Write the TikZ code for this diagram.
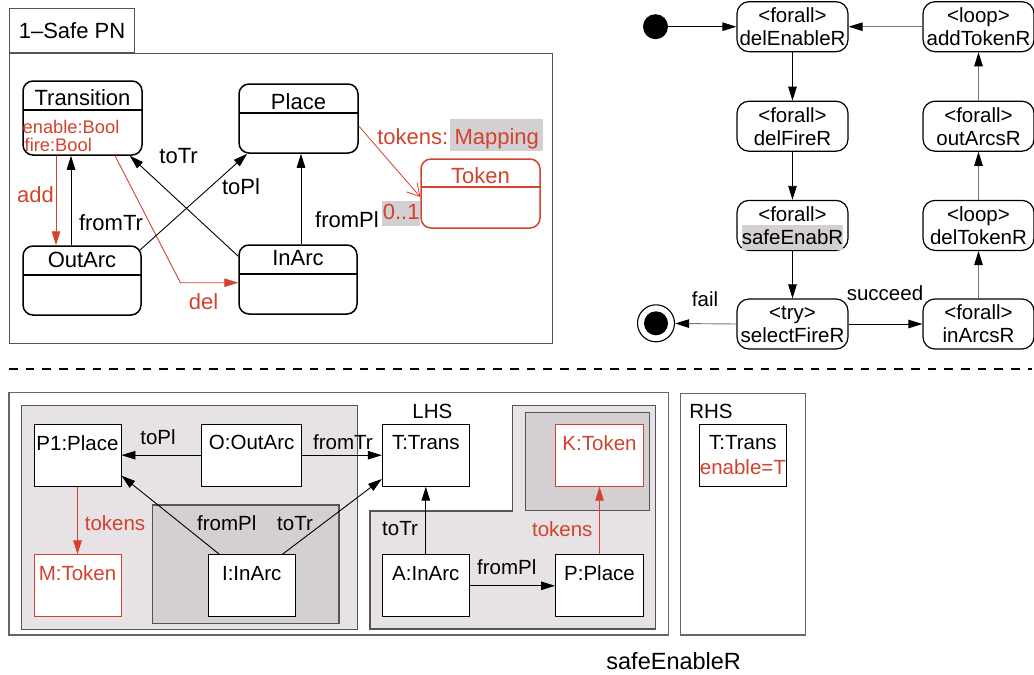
\documentclass[tikz,border=0pt]{standalone}
\usepackage{fontspec}
\setmainfont{Liberation Sans}
\usetikzlibrary{arrows.meta}
\definecolor{pnred}{RGB}{210,66,44}
\definecolor{lgray}{RGB}{231,226,230}
\definecolor{dgray}{RGB}{212,207,211}
\definecolor{hlgray}{RGB}{212,207,211}
\definecolor{framec}{RGB}{85,85,85}
\newcommand{\fsA}{\fontsize{22}{24}\selectfont}
\newcommand{\fsB}{\fontsize{20.5}{23}\selectfont}
\newcommand{\fsC}{\fontsize{18.3}{20}\selectfont}
\begin{document}
\begin{tikzpicture}[x=1pt,y=-1pt,
  >={Triangle[length=14pt,width=8.5pt]},
  lbl/.style={inner sep=0pt, font=\fsA},
  slbl/.style={inner sep=0pt, font=\fsB},
  cls/.style={draw, rounded corners=10pt, line width=1.5pt, inner sep=0pt},
  act/.style={draw, rounded corners=12pt, line width=1.2pt, minimum width=111pt, minimum height=50pt, inner sep=0pt, align=center, font=\fsB},
  inst/.style={draw, fill=white, line width=0.9pt, minimum width=87pt, minimum height=62pt, inner sep=0pt},
  conn/.style={line width=0.9pt, ->},
  rconn/.style={line width=0.9pt, ->, draw=pnred},
  gconn/.style={line width=0.9pt, draw=black!55, -{Triangle[length=14pt,width=8.5pt,color=black]}},
  region/.style={draw=framec, line width=1.2pt},
]
\useasboundingbox (0,0) rectangle (1034,675);

% ---------- top left: class diagram ----------
\node[draw=framec, line width=1pt, minimum width=125pt, minimum height=44pt, inner sep=0pt, font=\fsA] (tab) at (72,30.2) {1–Safe PN};
\draw[draw=framec, line width=1pt] (9.6,53) rectangle (552.5,343);

\node[cls, minimum width=119pt, minimum height=74pt] (tr) at (82.5,118) {};
\draw[line width=1.5pt] (23,110) -- (142,110);
\node[lbl] (trT) at (82.5,98) {Transition};
\node[inner sep=0pt, font=\fsC, text=pnred, anchor=west] (trA1) at (22.5,127) {enable:Bool};
\node[inner sep=0pt, font=\fsC, text=pnred, anchor=west] (trA2) at (24.5,144.5) {fire:Bool};

\node[cls, minimum width=119pt, minimum height=69pt] (pl) at (298.5,118.5) {};
\draw[line width=1.5pt] (239,113) -- (358,113);
\node[lbl] (plT) at (298.5,101.5) {Place};

\node[cls, draw=pnred, minimum width=119pt, minimum height=69pt] (tk) at (480.5,193.5) {};
\draw[line width=1.5pt, pnred] (421,187) -- (540,187);
\node[lbl, text=pnred] (tkT) at (480.5,175.5) {Token};

\node[cls, minimum width=118pt, minimum height=69pt] (oa) at (82,280.5) {};
\draw[line width=1.5pt] (23,275) -- (141,275);
\node[lbl] (oaT) at (82,260) {OutArc};

\node[cls, minimum width=118pt, minimum height=69pt] (ia) at (298,279.5) {};
\draw[line width=1.5pt] (239,274) -- (357,274);
\node[lbl] (iaT) at (298,258.5) {InArc};

% connectors
\draw[rconn] ([xshift=-26.5pt]tr.south) -- ([xshift=-26pt]oa.north);
\node[lbl, text=pnred] (addL) at (35.5,195) {add};
\draw[conn] ([xshift=-11pt]oa.north) -- ([xshift=-11.5pt]tr.south);
\node[lbl] (fromTrL) at (111,223) {fromTr};
\coordinate (delB) at (180.4,282.7);
\draw[rconn] ([xshift=32.5pt]tr.south) -- (delB) -- (delB -| ia.west);
\node[lbl, text=pnred] (delL) at (203.6,301.7) {del};
\draw[conn] ([yshift=-12pt]ia.north west) -- ([xshift=-13pt]tr.south east);
\node[lbl] (toTrL) at (178.6,156) {toTr};
\draw[conn] ([xshift=-2pt,yshift=-5pt]oa.north east) -- ([xshift=9pt]pl.south west);
\node[lbl] (toPlL) at (241,187) {toPl};
\draw[conn] ([xshift=3pt]ia.north) -- ([xshift=2.5pt]pl.south);
\node[lbl] (fromPlL) at (347,220) {fromPl};
\draw[line width=0.8pt, draw=pnred, -{Straight Barb[length=12pt,width=14pt,line width=0.8pt]}] ([yshift=-7.5pt]pl.east) -- ([yshift=-3.5pt]tk.west);
\node[lbl, text=pnred, anchor=base] (tokL) at (412.8,144.3) {tokens:};
\node[font=\fsA, text=pnred, fill=hlgray, inner xsep=4.5pt, inner ysep=0pt, text height=25.3pt, text depth=6.4pt, anchor=base] (mapL) at (496.7,144.3) {Mapping};
\node[font=\fsA, text=pnred, fill=hlgray, inner xsep=0.5pt, inner ysep=0pt, text height=18.3pt, text depth=6.7pt, anchor=base] (mulL) at (401.2,219.3) {0..1};

% ---------- top right: activity diagram ----------
\node[act] (a1) at (792.5,26.7) {<forall>\\delEnableR};
\node[act] (a2) at (792.5,126.2) {<forall>\\delFireR};
\node[act] (a3) at (792.5,225.4) {<forall>\\\raisebox{0pt}[\height][0pt]{\setlength{\fboxsep}{0pt}\colorbox{hlgray}{\rule[-5.6pt]{0pt}{25pt}safeEnabR}}};
\node[act] (a4) at (792.5,324) {<try>\\selectFireR};
\node[act] (b1) at (978.5,26.7) {<loop>\\addTokenR};
\node[act] (b2) at (978.5,126.2) {<forall>\\outArcsR};
\node[act] (b3) at (978.5,225.4) {<loop>\\delTokenR};
\node[act] (b4) at (978.5,324) {<forall>\\inArcsR};

\node[circle, fill=black, minimum size=25pt, inner sep=0pt] (init) at (655.5,26.7) {};
\node[circle, draw=black, line width=1.1pt, minimum size=37pt, inner sep=0pt] (fin) at (656,323.3) {};
\node[circle, fill=black, minimum size=24pt, inner sep=0pt] (finc) at (656,323.3) {};

\draw[conn] (init) -- (a1);
\draw[conn] (a1) -- (a2);
\draw[conn] (a2) -- (a3);
\draw[conn] (a3) -- (a4);
\draw[gconn] (a4.west) -- (fin);
\node[slbl] (failL) at (705,299) {fail};
\draw[conn] (a4) -- (b4);
\node[slbl] (succL) at (885,293) {succeed};
\draw[gconn] (b4) -- (b3);
\draw[gconn] (b3) -- (b2);
\draw[gconn] (b2) -- (b1);
\draw[gconn] (b1) -- (a1);

% ---------- separator ----------
\draw[line width=2.4pt, dash pattern=on 8.7pt off 8pt] (9,369) -- (1032,369);

% ---------- bottom: rule safeEnableR ----------
\draw[draw=black!60, line width=1.2pt] (9,392.3) rectangle (668.3,635);
\draw[region, fill=lgray] (21.7,405.7) rectangle (357.3,629.3);
\draw[region, fill=dgray] (152.3,505) rectangle (339,623.3);
\draw[region, fill=lgray] (512.6,405.7) -- (655.3,405.7) -- (655.3,629) -- (370,629) -- (370,511) -- (512.6,511) -- cycle;
\draw[region, fill=dgray] (525.5,412.3) rectangle (649.4,510.8);
\draw[draw=black!60, line width=1.2pt] (680.5,393.3) rectangle (805.5,635);

\node[slbl] (lhsL) at (432.3,411.7) {LHS};
\node[slbl] (rhsL) at (711,411) {RHS};

\node[inst] (p1) at (77.5,455.2) {};
\node[inst, minimum width=100pt] (o) at (251.7,455.2) {};
\node[inst] (t) at (425.8,455.2) {};
\node[inst, draw=pnred] (m) at (77.5,585.8) {};
\node[inst] (i) at (251.7,585.8) {};
\node[inst] (a) at (425.8,585.8) {};
\node[inst, draw=pnred, minimum width=88pt] (k) at (599.5,455.2) {};
\node[inst, minimum width=88pt] (p) at (599.5,585.8) {};
\node[inst] (t2) at (742.9,455.2) {};

\node[slbl] (p1T) at (77.5,442.8) {P1:Place};
\node[slbl] (oT) at (251.7,442.8) {O:OutArc};
\node[slbl] (tT) at (425.8,442.8) {T:Trans};
\node[slbl, text=pnred] (mT) at (77.5,573.5) {M:Token};
\node[slbl] (iT) at (251.7,573.5) {I:InArc};
\node[slbl] (aT) at (425.8,573.5) {A:InArc};
\node[slbl, text=pnred] (kT) at (599.5,442.8) {K:Token};
\node[slbl] (pT) at (599.5,573.5) {P:Place};
\node[slbl] (t2T) at (742.9,442.3) {T:Trans};
\node[slbl, text=pnred] (t2A) at (742.9,466.7) {enable=T};

\draw[conn] (o.west) -- (p1.east);
\node[slbl] (toPl2) at (158,436.7) {toPl};
\draw[conn] (o.east) -- (t.west);
\node[slbl] (fromTr2) at (343,442) {fromTr};
\draw[conn] ([xshift=11.7pt]i.north west) -- ([yshift=11pt]p1.south east);
\node[slbl] (fromPl2) at (226.7,523.3) {fromPl};
\draw[conn] ([xshift=-13.3pt]i.north east) -- ([yshift=7.7pt]t.south west);
\node[slbl] (toTr2) at (295,523.3) {toTr};
\draw[rconn] (p1.south) -- (m.north);
\node[slbl, text=pnred] (tok2) at (115,523.3) {tokens};
\draw[conn] (a.north) -- (t.south);
\node[slbl] (toTr3) at (400,529) {toTr};
\draw[conn] (a.east) -- (p.west);
\node[slbl] (fromPl3) at (506.7,566.7) {fromPl};
\draw[rconn] (p.north) -- (k.south);
\node[slbl, text=pnred] (tok3) at (562.3,529) {tokens};

\node[inner sep=0pt, font=\fontsize{23.5}{26}\selectfont] (ruleL) at (673.7,661.5) {safeEnableR};
\end{tikzpicture}
\end{document}
